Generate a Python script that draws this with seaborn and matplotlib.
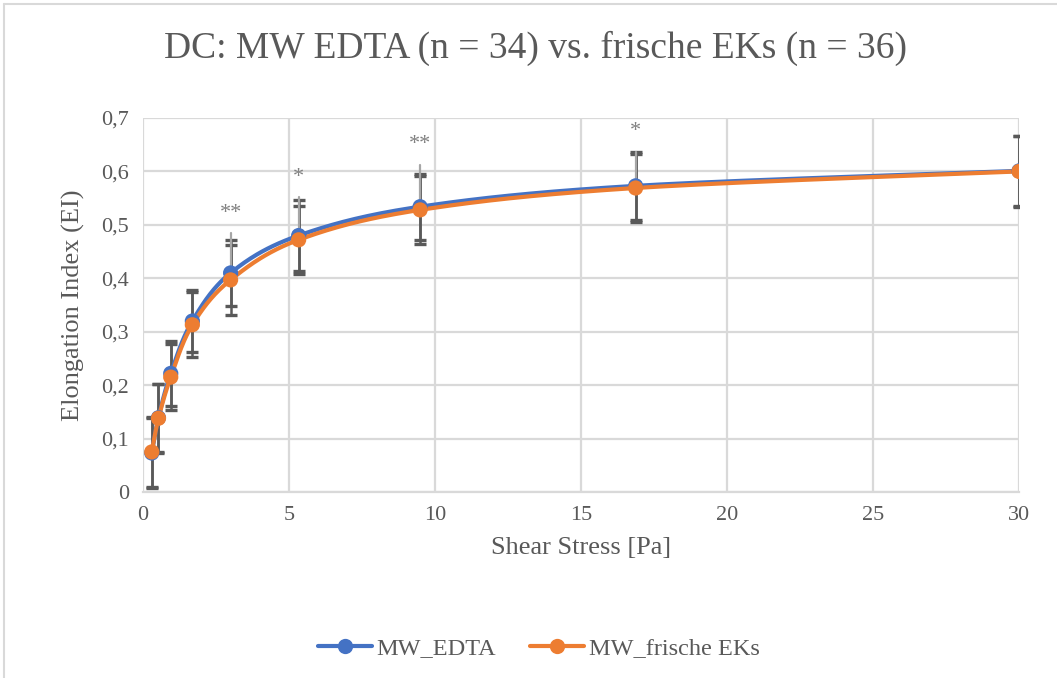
import numpy as np
import pandas as pd
import matplotlib
matplotlib.use("Agg")
import matplotlib.pyplot as plt
from matplotlib.lines import Line2D
import seaborn as sns

# Shear stress steps [Pa]
shear_stress = [0.3, 0.53, 0.95, 1.69, 3.0, 5.33, 9.49, 16.87, 30.0]

# Mean elongation index and standard deviation per group
ei_edta = [0.073, 0.139, 0.222, 0.320, 0.410, 0.480, 0.534, 0.573, 0.601]
sd_edta = [0.066, 0.064, 0.061, 0.058, 0.061, 0.066, 0.062, 0.063, 0.066]
ei_fresh = [0.075, 0.138, 0.215, 0.313, 0.397, 0.472, 0.528, 0.569, 0.600]
sd_fresh = [0.066, 0.065, 0.062, 0.061, 0.066, 0.064, 0.064, 0.063, 0.066]

# Significance marks
sig_x = [3.0, 5.33, 9.49, 16.87]
sig_label = ["**", "*", "**", "*"]
sig_y = [0.522, 0.588, 0.650, 0.675]
sig_line_top = [0.485, 0.552, 0.612, 0.636]

series_names = ["MW_EDTA", "MW_frische EKs"]
colors = {"MW_EDTA": "#4472C4", "MW_frische EKs": "#ED7D31"}

df = pd.DataFrame({
    "stress": shear_stress * 2,
    "ei": ei_edta + ei_fresh,
    "sd": sd_edta + sd_fresh,
    "group": [series_names[0]] * len(shear_stress) + [series_names[1]] * len(shear_stress),
})

sns.set_theme(style="white")
plt.rcParams["font.family"] = ["Liberation Serif", "DejaVu Serif"]
text_color = "#595959"
grid_color = "#D9D9D9"

fig = plt.figure(figsize=(10.57, 6.78), dpi=100)
ax = fig.add_axes([143 / 1057, 1 - 492 / 678, (1019 - 143) / 1057, (492 - 118) / 678])


def smooth_curve(x, y, steps=40):
    """Bezier smoothing through every point (spreadsheet-style smoothed line)."""
    x = np.asarray(x, float)
    y = np.asarray(y, float)
    px = np.concatenate([[x[0]], x, [x[-1]]])
    py = np.concatenate([[y[0]], y, [y[-1]]])
    out_x, out_y = [], []
    t = np.linspace(0, 1, steps)
    for i in range(1, len(px) - 2):
        p0 = np.array([px[i], py[i]])
        p3 = np.array([px[i + 1], py[i + 1]])
        c1 = p0 + (np.array([px[i + 1], py[i + 1]]) - np.array([px[i - 1], py[i - 1]])) / 6
        c2 = p3 - (np.array([px[i + 2], py[i + 2]]) - np.array([px[i], py[i]])) / 6
        b = ((1 - t) ** 3)[:, None] * p0 + (3 * (1 - t) ** 2 * t)[:, None] * c1 \
            + (3 * (1 - t) * t ** 2)[:, None] * c2 + (t ** 3)[:, None] * p3
        out_x.extend(b[:, 0])
        out_y.extend(b[:, 1])
    return np.array(out_x), np.array(out_y)


# Error bars (dark grey, capped)
for name in series_names:
    sub = df[df["group"] == name]
    ax.errorbar(sub["stress"], sub["ei"], yerr=sub["sd"], fmt="none",
                ecolor="#595959", elinewidth=1.8, capsize=4.5, capthick=2.4, zorder=2)

# Thin guide lines leading up to the significance marks
for x, y0, y1 in zip(sig_x, ei_fresh[4:8], sig_line_top):
    ax.plot([x, x], [y0, y1], color="#A6A6A6", lw=1.6, zorder=2.5)

# Smoothed curves with circular markers
for name in series_names:
    sub = df[df["group"] == name]
    sx, sy = smooth_curve(sub["stress"], sub["ei"])
    ax.plot(sx, sy, color=colors[name], lw=3.0, zorder=3, solid_capstyle="round")
    sns.scatterplot(data=sub, x="stress", y="ei", color=colors[name], s=120,
                    edgecolor="none", ax=ax, zorder=4, legend=False)

for x, y, lab in zip(sig_x, sig_y, sig_label):
    ax.text(x, y, lab, ha="center", va="center", fontsize=16, color="#808080")

ax.set_xlim(0, 30)
ax.set_ylim(0, 0.7)
ax.set_xticks(np.arange(0, 31, 5))
ax.set_yticks(np.arange(0, 0.71, 0.1))
ax.set_yticklabels(["0" if v == 0 else f"{v:.1f}".replace(".", ",") for v in np.arange(0, 0.71, 0.1)])
ax.grid(True, color=grid_color, lw=1.6)
ax.set_axisbelow(True)
for side in ["top", "right", "left"]:
    ax.spines[side].set_visible(False)
ax.spines["bottom"].set_color(grid_color)
ax.spines["bottom"].set_linewidth(1.6)
ax.tick_params(axis="both", length=0, labelsize=16, colors=text_color, pad=10)

ax.set_xlabel("Shear Stress [Pa]", fontsize=19, color=text_color, labelpad=9)
ax.set_ylabel("Elongation Index (EI)", fontsize=19, color=text_color, labelpad=12)

fig.text(535 / 1057, 1 - 48 / 678, "DC: MW EDTA (n = 34) vs. frische EKs (n = 36)",
         ha="center", va="center", fontsize=27, color=text_color)

handles = [Line2D([0], [0], color=colors[n], lw=3.0, marker="o", markersize=11,
                  markeredgewidth=0) for n in series_names]
fig.legend(handles, series_names, loc="center", bbox_to_anchor=(539 / 1057, 1 - 648 / 678),
           ncol=2, frameon=False, fontsize=17.5, labelcolor=text_color,
           handlelength=2.2, handletextpad=0.2, columnspacing=1.4)

# Chart area frame (top and left edges)
fig.add_artist(Line2D([4 / 1057, 4 / 1057], [0, 1 - 4 / 678], transform=fig.transFigure,
                      color=grid_color, lw=1.5))
fig.add_artist(Line2D([4 / 1057, 1], [1 - 4 / 678, 1 - 4 / 678], transform=fig.transFigure,
                      color=grid_color, lw=1.5))

fig.savefig("out.png", dpi=100, facecolor="white")
